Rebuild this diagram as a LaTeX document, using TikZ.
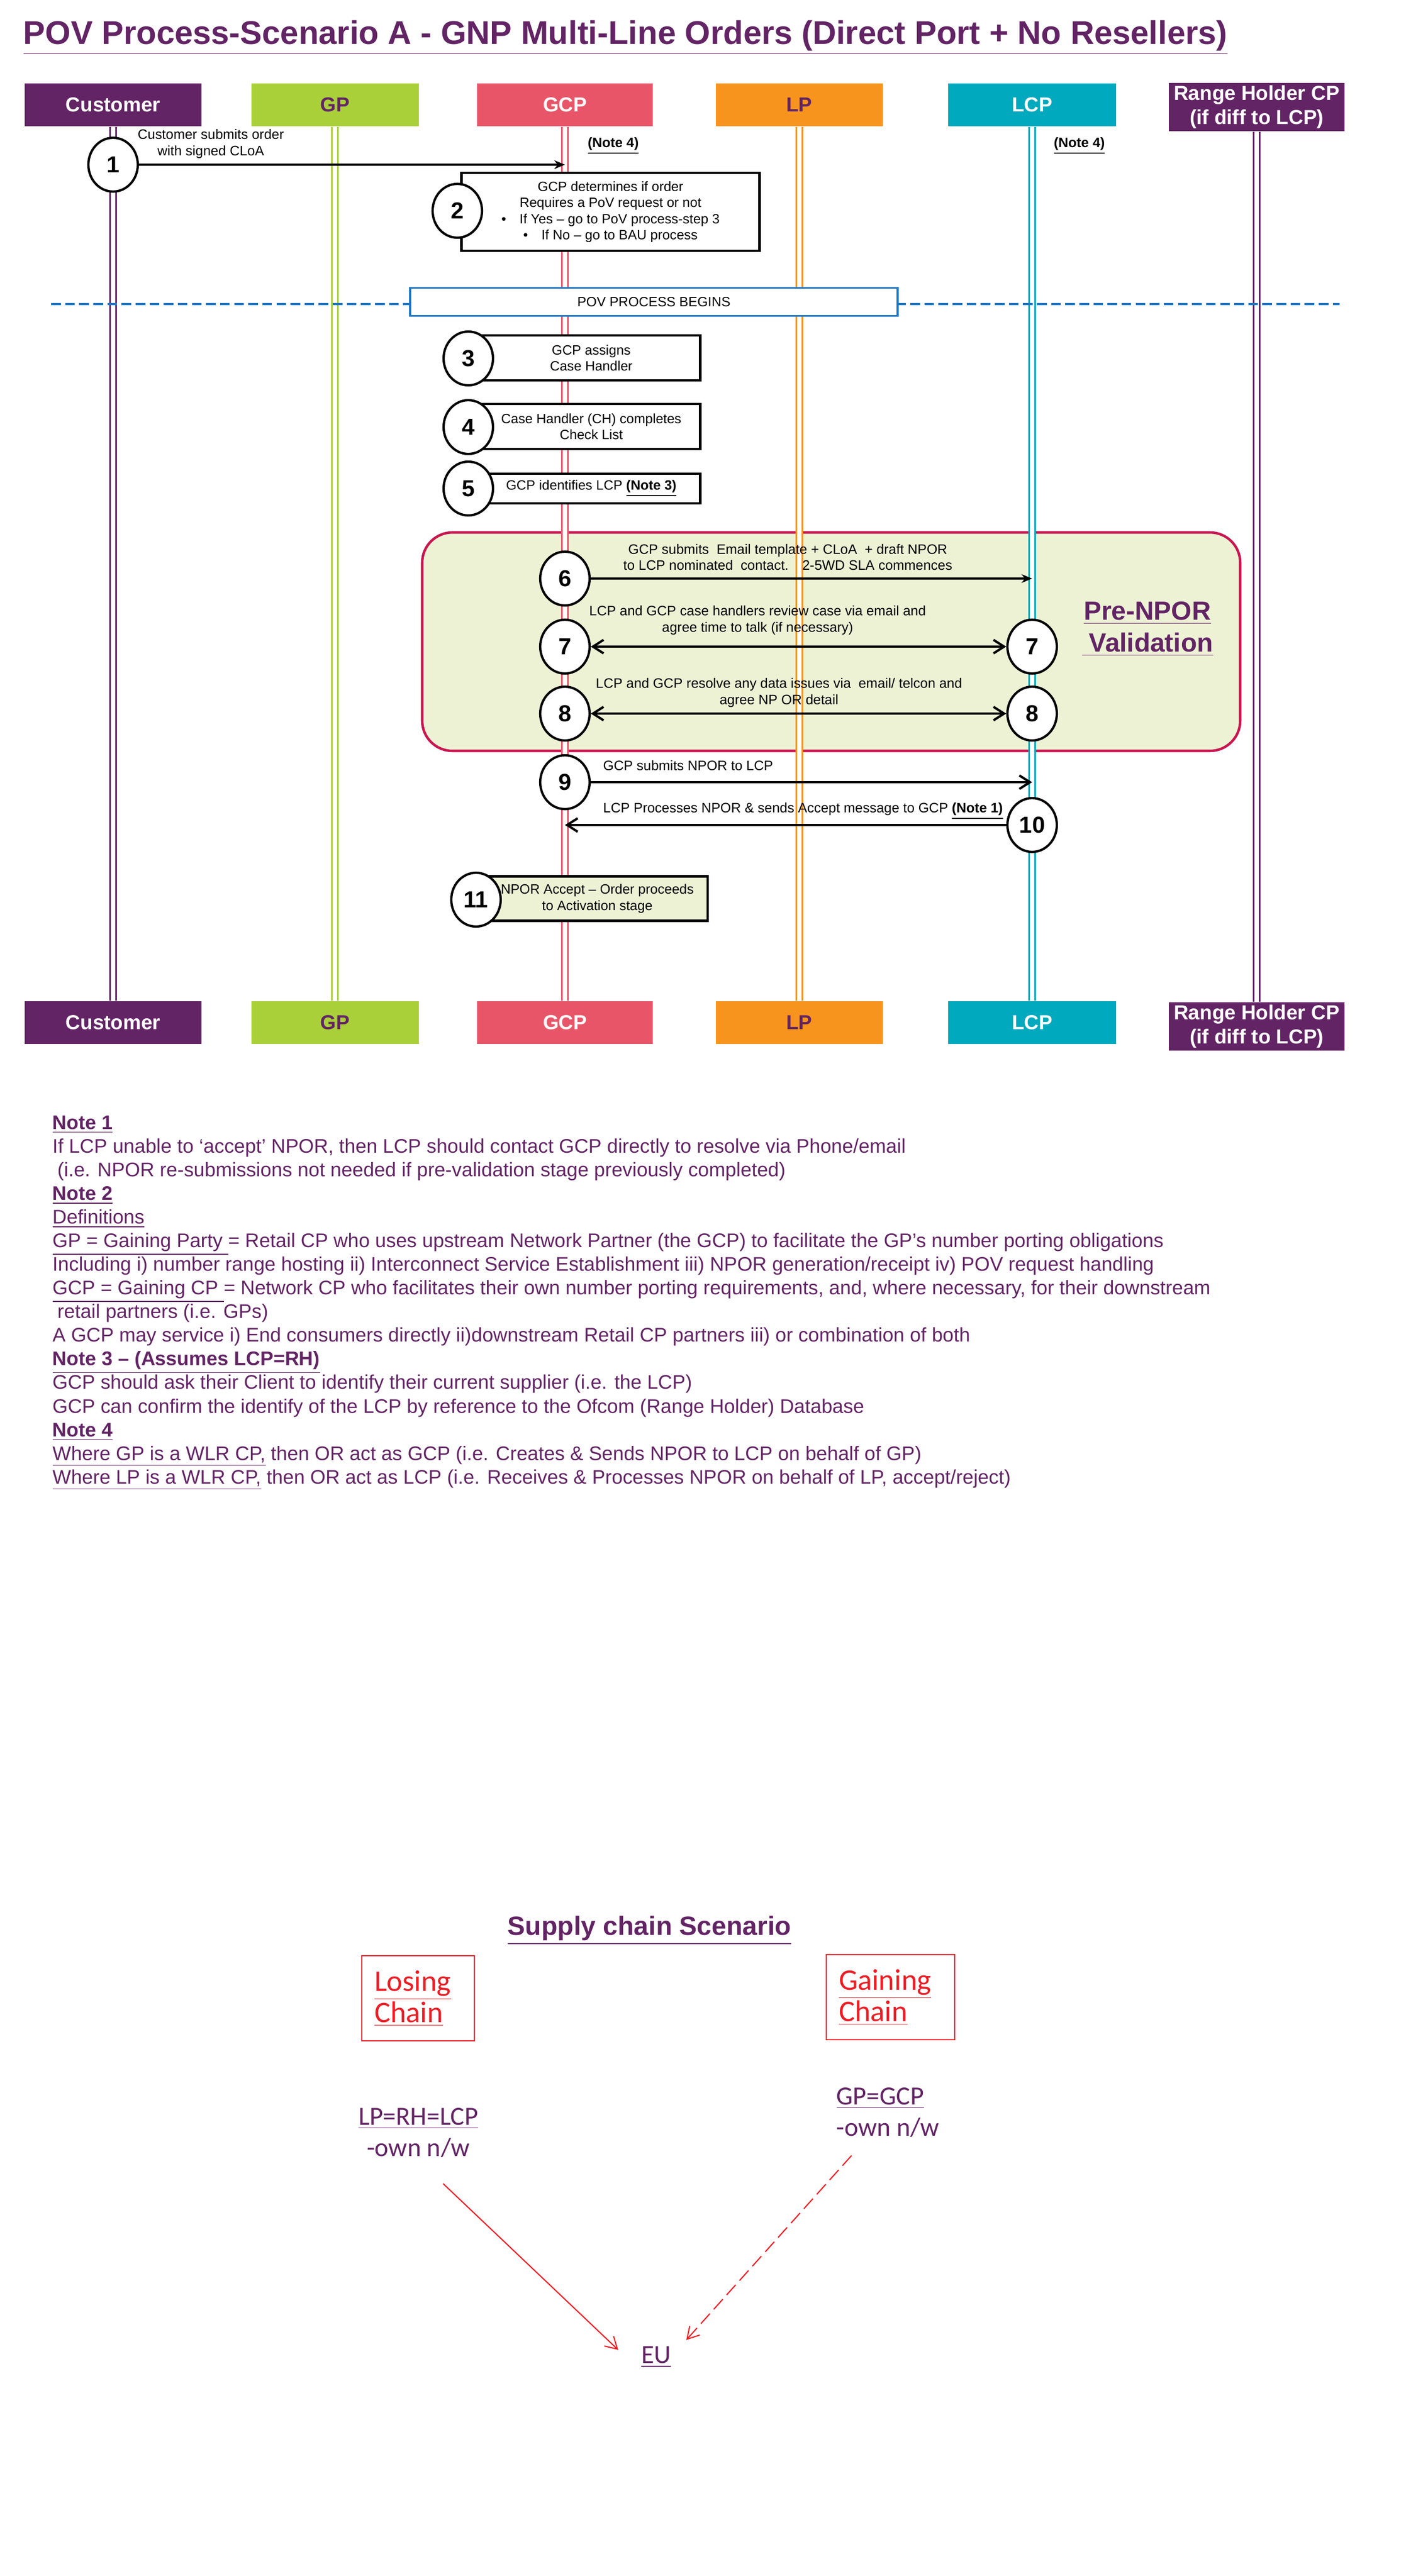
\documentclass[tikz,border=0pt]{standalone}
\usepackage{fontspec}
\setmainfont{Liberation Sans}
\newfontfamily\calibri{Carlito}
\usetikzlibrary{shapes.geometric,arrows.meta}
\definecolor{povpurple}{RGB}{98,36,100}
\definecolor{gpgreen}{RGB}{169,208,57}
\definecolor{gcpred}{RGB}{232,85,104}
\definecolor{lporange}{RGB}{247,148,30}
\definecolor{lcpteal}{RGB}{0,169,190}
\definecolor{prefill}{RGB}{237,242,213}
\definecolor{preedge}{RGB}{200,21,80}
\definecolor{povblue}{RGB}{30,120,200}
\definecolor{chainred}{RGB}{237,28,36}

\begin{document}
\begin{tikzpicture}[
  hdr/.style={minimum height=0.78cm, inner sep=0pt, text=white, align=center,
    font=\fontsize{10.5}{12.5}\selectfont\bfseries},
  life/.style={double=white, double distance=2.1pt, line width=1pt},
  num/.style={ellipse, draw, fill=white, line width=1.2pt, minimum width=0.9cm,
    minimum height=0.98cm, inner sep=0pt, font=\fontsize{12}{14}\selectfont\bfseries},
  stepbox/.style={draw, fill=white, line width=1.2pt, inner sep=0pt, align=center,
    font=\fontsize{7}{8.4}\selectfont},
  steptxt/.style={inner sep=0pt, align=center, font=\fontsize{7.1}{8.4}\selectfont},
  msg/.style={line width=1.2pt, -{Stealth[length=5.5pt,width=4.5pt]}},
  openmsg/.style={line width=1.2pt, -{Straight Barb[length=5.5pt,width=7pt]}},
  bothmsg/.style={line width=1.2pt, {Straight Barb[length=5.5pt,width=7pt]}-{Straight Barb[length=5.5pt,width=7pt]}},
  chain/.style={draw=chainred, text=chainred, line width=0.6pt, minimum height=1.55cm,
    inner xsep=0.23cm, align=left, font=\calibri\fontsize{15.5}{16.2}\selectfont},
  scnote/.style={inner sep=0pt, text=povpurple, font=\calibri\fontsize{13.6}{16.2}\selectfont},
  chainarrow/.style={draw=chainred, line width=0.6pt, -{Straight Barb[length=6pt,width=7pt]}}
]
\useasboundingbox (0,0) rectangle (25.6,-46.93);

% pre-NPOR validation area
\filldraw[fill=prefill, draw=preedge, line width=1.3pt, rounded corners=0.55cm]
  (7.69,-9.70) rectangle (22.59,-13.68);

\node[anchor=base west, inner sep=0pt, text=povpurple, font=\fontsize{17}{19}\selectfont\bfseries]
  (title) at (0.42,-0.80) {\underline{POV Process-Scenario A - GNP Multi-Line Orders (Direct Port + No Resellers)}};

% parties, top and bottom
\node[hdr, fill=povpurple, minimum width=3.21cm] (cust) at (2.06,-1.91) {Customer};
\node[hdr, fill=gpgreen, text=povpurple, minimum width=3.05cm] (gp) at (6.10,-1.91) {GP};
\node[hdr, fill=gcpred, minimum width=3.20cm] (gcp) at (10.29,-1.91) {GCP};
\node[hdr, fill=lporange, text=povpurple, minimum width=3.04cm] (lp) at (14.56,-1.91) {LP};
\node[hdr, fill=lcpteal, minimum width=3.06cm] (lcp) at (18.80,-1.91) {LCP};
\node[hdr, fill=povpurple, minimum width=3.20cm, minimum height=0.88cm] (rh) at (22.89,-1.95) {Range Holder CP\\(if diff to LCP)};

\node[hdr, fill=povpurple, minimum width=3.21cm] (custB) at (2.06,-18.63) {Customer};
\node[hdr, fill=gpgreen, text=povpurple, minimum width=3.05cm] (gpB) at (6.10,-18.63) {GP};
\node[hdr, fill=gcpred, minimum width=3.20cm] (gcpB) at (10.29,-18.63) {GCP};
\node[hdr, fill=lporange, text=povpurple, minimum width=3.04cm] (lpB) at (14.56,-18.63) {LP};
\node[hdr, fill=lcpteal, minimum width=3.06cm] (lcpB) at (18.80,-18.63) {LCP};
\node[hdr, fill=povpurple, minimum width=3.20cm, minimum height=0.88cm] (rhB) at (22.89,-18.70) {Range Holder CP\\(if diff to LCP)};

\draw[life, povpurple] (cust.south) -- (custB.north);
\draw[life, gpgreen] (gp.south) -- (gpB.north);
\draw[life, gcpred] (gcp.south) -- (gcpB.north);
\draw[life, lporange] (lp.south) -- (lpB.north);
\draw[life, lcpteal] (lcp.south) -- (lcpB.north);
\draw[life, povpurple] (rh.south) -- (rhB.north);

% steps 1 and 2
\node[steptxt] (t1) at (3.84,-2.62) {Customer submits order\\with signed CLoA};
\node[steptxt] (n4a) at (11.17,-2.66) {\underline{\textbf{(Note 4)}}};
\node[steptxt] (n4b) at (19.66,-2.66) {\underline{\textbf{(Note 4)}}};
\node[num] (c1) at (2.06,-3.00) {1};
\draw[msg] (c1) -- (c1 -| gcp);

\node[stepbox, minimum width=5.43cm, minimum height=1.42cm] (b2) at (11.12,-3.86)
  {GCP determines if order\\Requires a PoV request or not\\\textbullet\quad If Yes -- go to PoV process-step 3\\\textbullet\quad If No -- go to BAU process};
\node[num] (c2) at (8.33,-3.84) {2};

% POV process begins
\coordinate (divL) at (0.93,-5.54);
\coordinate (divR) at (24.40,-5.54);
\draw[povblue, line width=0.9pt, dash pattern=on 5pt off 2.3pt] (divL) -- (divR);
\node[draw=povblue, fill=white, line width=1.1pt, minimum width=8.88cm, minimum height=0.51cm,
  inner sep=0pt, font=\fontsize{7}{8.4}\selectfont] (pov) at (11.91,-5.50) {POV PROCESS BEGINS};

% steps 3 to 5
\node[stepbox, minimum width=3.97cm, minimum height=0.82cm] (b3) at (10.77,-6.52) {GCP assigns\\Case Handler};
\node[num] (c3) at (8.53,-6.53) {3};
\node[stepbox, minimum width=3.97cm, minimum height=0.82cm] (b4) at (10.77,-7.77) {Case Handler (CH) completes\\Check List};
\node[num] (c4) at (8.53,-7.78) {4};
\node[stepbox, minimum width=3.97cm, minimum height=0.54cm] (b5) at (10.77,-8.90) {GCP identifies LCP \underline{\textbf{(Note 3)}}};
\node[num] (c5) at (8.53,-8.90) {5};

% steps 6 to 8 (pre-NPOR)
\node[steptxt] (t6) at (14.35,-10.15) {GCP submits\ \ Email template + CLoA\ \ + draft NPOR\\to LCP nominated\ \ contact.\quad 2-5WD SLA commences};
\node[num] (c6) at (10.29,-10.54) {6};
\draw[msg] (c6) -- (c6 -| lcp);

\node[steptxt] (t7) at (13.80,-11.30) {LCP and GCP case handlers review case via email and\\agree time to talk (if necessary)};
\node[num] (c7a) at (10.29,-11.78) {7};
\node[num] (c7b) at (18.80,-11.78) {7};
\draw[bothmsg] (c7a) -- (c7b);

\node[steptxt] (t8) at (14.19,-12.62) {LCP and GCP resolve any data issues via\ \ email/ telcon and\\agree NP OR detail};
\node[num] (c8a) at (10.29,-13.00) {8};
\node[num] (c8b) at (18.80,-13.00) {8};
\draw[bothmsg] (c8a) -- (c8b);

\node[inner sep=0pt, text=povpurple, align=center, font=\fontsize{13.6}{16.5}\selectfont\bfseries]
  (prelbl) at (20.90,-11.46) {\underline{Pre-NPOR}\\\underline{\ Validation}};

% steps 9 to 11
\node[steptxt, anchor=west] (t9) at (10.98,-13.95) {GCP submits NPOR to LCP};
\node[num] (c9) at (10.29,-14.25) {9};
\draw[openmsg] (c9) -- (c9 -| lcp);

\node[steptxt, anchor=west] (t10) at (10.98,-14.78) {LCP Processes NPOR \& sends Accept message to GCP \underline{\textbf{(Note 1)}}};
\node[num] (c10) at (18.80,-15.03) {10};
\draw[openmsg] (c10) -- (c10 -| gcp);

\node[stepbox, fill=prefill, minimum width=4.02cm, minimum height=0.81cm] (b11) at (10.88,-16.37)
  {NPOR Accept -- Order proceeds\\to Activation stage};
\node[num] (c11) at (8.67,-16.39) {11};

% notes
\node[anchor=north west, inner sep=0pt, align=left, text=povpurple, font=\fontsize{10.2}{12.25}\selectfont]
  (notes) at (0.95,-20.32) {%
\underline{\textbf{Note 1}}\\
If LCP unable to ‘accept’ NPOR, then LCP should contact GCP directly to resolve via Phone/email\\
\hspace*{0.25em}(i.e. NPOR re-submissions not needed if pre-validation stage previously completed)\\
\underline{\textbf{Note 2}}\\
\underline{Definitions}\\
\underline{GP = Gaining Party }= Retail CP who uses upstream Network Partner (the GCP) to facilitate the GP’s number porting obligations\\
Including i) number range hosting ii) Interconnect Service Establishment iii) NPOR generation/receipt iv) POV request handling\\
\underline{GCP = Gaining CP }= Network CP who facilitates their own number porting requirements, and, where necessary, for their downstream\\
\hspace*{0.25em}retail partners (i.e. GPs)\\
A GCP may service i) End consumers directly ii)downstream Retail CP partners iii) or combination of both\\
\underline{\textbf{Note 3 -- (Assumes LCP=RH)}}\\
GCP should ask their Client to identify their current supplier (i.e. the LCP)\\
GCP can confirm the identify of the LCP by reference to the Ofcom (Range Holder) Database\\
\underline{\textbf{Note 4}}\\
\underline{Where GP is a WLR CP,} then OR act as GCP (i.e. Creates \& Sends NPOR to LCP on behalf of GP)\\
\underline{Where LP is a WLR CP,} then OR act as LCP (i.e. Receives \& Processes NPOR on behalf of LP, accept/reject)};

% supply chain scenario
\node[inner sep=0pt, text=povpurple, font=\fontsize{13.7}{16}\selectfont\bfseries] (sc) at (11.83,-35.17) {\underline{Supply chain Scenario}};
\node[chain, text width=1.59cm] (lose) at (7.615,-36.405) {\underline{Losing}\\\underline{Chain}};
\node[chain, text width=1.88cm] (gain) at (16.22,-36.385) {\underline{Gaining}\\\underline{Chain}};
\node[scnote, align=center] (lpown) at (7.62,-38.85) {\underline{LP=RH=LCP}\\-own n/w};
\node[scnote, align=left, anchor=west] (gpown) at (15.23,-38.48) {\underline{GP=GCP}\\-own n/w};
\node[scnote] (eu) at (11.95,-42.94) {\underline{EU}};

\coordinate (loseA) at (8.07,-39.78);
\coordinate (loseB) at (11.26,-42.81);
\coordinate (gainA) at (15.51,-39.27);
\coordinate (gainB) at (12.50,-42.63);
\draw[chainarrow] (loseA) -- (loseB);
\draw[chainarrow, dash pattern=on 7pt off 3pt] (gainA) -- (gainB);
\end{tikzpicture}
\end{document}
